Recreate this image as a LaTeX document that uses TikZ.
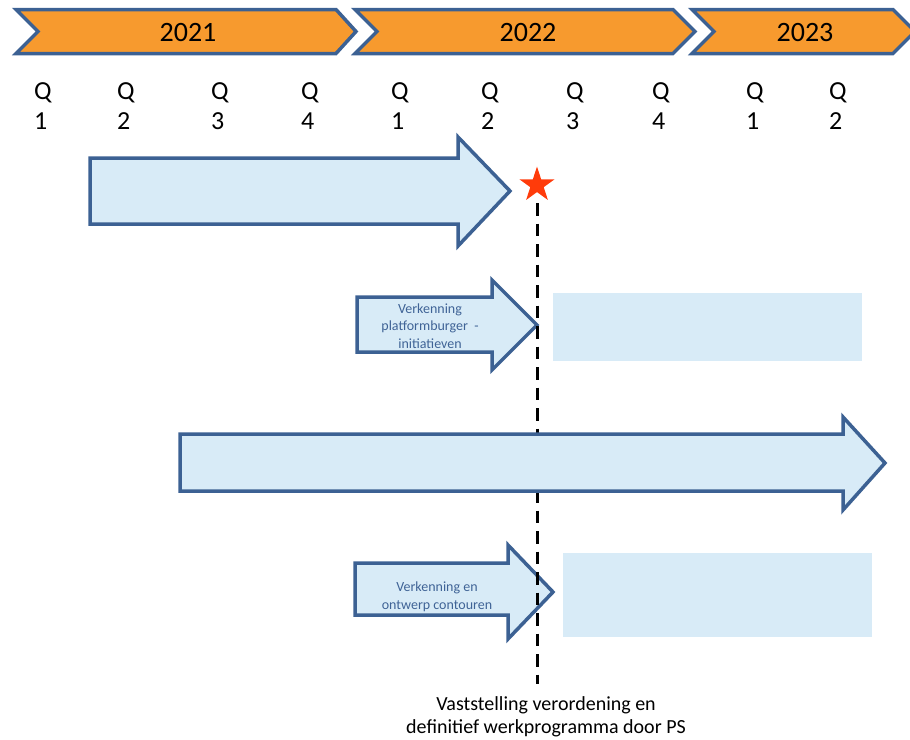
\documentclass[tikz,border=0pt]{standalone}
\usepackage{fontspec}
\setmainfont{Carlito}
\usetikzlibrary{shapes.geometric}
\definecolor{orangeF}{HTML}{F79A2E}
\definecolor{edgeB}{HTML}{3C6193}
\definecolor{fillB}{HTML}{D8EBF7}
\definecolor{starR}{HTML}{FF3B0A}
\definecolor{txtB}{HTML}{3F6396}
\begin{document}
\begin{tikzpicture}[x=1pt,y=-1pt,
  chev/.style={fill=orangeF,draw=edgeB,line width=3.5pt,line join=miter},
  bigarrow/.style={fill=fillB,draw=edgeB,line width=3.5pt,line join=miter},
  band/.style={fill=fillB,draw=none},
  yeartxt/.style={font=\fontsize{28}{30}\selectfont,anchor=base,inner sep=0pt},
  qlab/.style={font=\fontsize{26}{30}\selectfont,align=left,anchor=north west,inner sep=0pt},
  intxt/.style={font=\fontsize{14}{17.5}\selectfont,text=txtB,align=center,inner sep=0pt},
  dashline/.style={line width=3pt,dash pattern=on 12.5pt off 8pt},
  pslab/.style={font=\fontsize{20}{23}\selectfont,align=center,anchor=north,inner sep=0pt}
]
\useasboundingbox (0,0) rectangle (910,739);
% year chevrons
\draw[chev] (16,9.5) -- (336,9.5) -- (356,31.5) -- (336,53.5) -- (16,53.5) -- (38,31.5) -- cycle;
\draw[chev] (355,9.5) -- (673,9.5) -- (695,31.5) -- (673,53.5) -- (355,53.5) -- (377,31.5) -- cycle;
\draw[chev] (692,9.5) -- (893,9.5) -- (915,31.5) -- (893,53.5) -- (692,53.5) -- (714,31.5) -- cycle;
\node[yeartxt] (y21) at (188,41) {2021};
\node[yeartxt] (y22) at (528,41) {2022};
\node[yeartxt] (y23) at (805,41) {2023};
% quarters
\node[qlab] (q211) at (34,82) {Q\\1};
\node[qlab] (q212) at (117,82) {Q\\2};
\node[qlab] (q213) at (211,82) {Q\\3};
\node[qlab] (q214) at (301,82) {Q\\4};
\node[qlab] (q221) at (391,82) {Q\\1};
\node[qlab] (q222) at (481,82) {Q\\2};
\node[qlab] (q223) at (566,82) {Q\\3};
\node[qlab] (q224) at (652,82) {Q\\4};
\node[qlab] (q231) at (746,82) {Q\\1};
\node[qlab] (q232) at (829,82) {Q\\2};
% arrows
\draw[bigarrow] (90,158) -- (458,158) -- (458,137) -- (510,191) -- (458,246) -- (458,224) -- (90,224) -- cycle;
\draw[bigarrow] (357,297) -- (492,297) -- (492,280) -- (537,325) -- (492,370) -- (492,352) -- (357,352) -- cycle;
\draw[bigarrow] (355,563) -- (508,563) -- (508,545) -- (553,592) -- (508,639) -- (508,615) -- (355,615) -- cycle;
\node[intxt] (t2) at (430,326) {Verkenning\\platformburger \ -\\initiatieven};
\node[intxt] (t4) at (437,597) {Verkenning en\\ontwerp contouren};
% light bands
\fill[band] (553,293) rectangle (862,361);
\fill[band] (563,553) rectangle (872,637);
% star and milestone line
\node[star,star points=5,star point ratio=2.618,fill=starR,draw=none,minimum size=37pt,inner sep=0pt] (star) at (537,185) {};
\coordinate (dend) at (537,684);
\draw[dashline] (star.center) ++(0,18) -- (dend);
\node[pslab] (ps) at (546,696) {Vaststelling verordening en\\definitief werkprogramma door PS};
% long arrow on top of the line
\draw[bigarrow] (180,434) -- (843,434) -- (843,417) -- (885,463) -- (843,510) -- (843,491) -- (180,491) -- cycle;
\end{tikzpicture}
\end{document}
